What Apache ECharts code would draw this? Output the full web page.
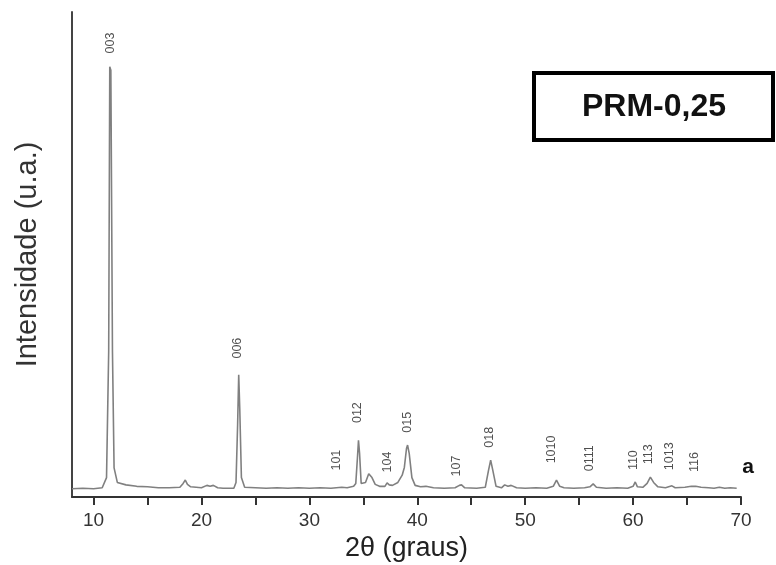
<!DOCTYPE html>
<html><head><meta charset="utf-8">
<script src="https://cdn.jsdelivr.net/npm/echarts@6/dist/echarts.min.js"></script>
<style>html,body{margin:0;padding:0;background:#fff}#c{width:776px;height:565px}</style>
</head><body><div id="c"></div>
<script>
// Diffraction pattern (2θ in degrees, intensity in arbitrary units)
const twoTheta = [8.0,9.0,10.0,10.8,11.2,11.4,11.5,11.6,11.75,11.9,12.2,13,14,15,16,17,18,18.3,18.5,18.7,19,20,20.5,20.8,21.1,21.5,22,23,23.2,23.35,23.45,23.55,23.7,24,25,26,27,28,29,30,31,32,33,33.5,34.1,34.3,34.45,34.55,34.65,34.8,35.2,35.5,35.6,35.8,36.1,36.5,37.0,37.2,37.4,37.7,38.2,38.6,38.8,39.0,39.1,39.25,39.5,39.8,40.3,40.8,41.5,42.5,43.5,43.9,44.1,44.4,45.5,46.3,46.6,46.8,47.0,47.3,47.8,48.1,48.4,48.7,49.2,50,51,52,52.6,52.9,53.2,53.6,54.5,55.5,56.0,56.3,56.6,57.5,58.5,59.5,60.0,60.2,60.4,60.9,61.3,61.6,61.9,62.3,63,63.6,63.9,64.8,65.4,65.8,66.3,67,67.5,68,68.5,69,69.6];
const intensity = [17,18,17,19,40,300,887,880,300,60,30,25,22,21,19,19,20,28,35,26,21,19,24,22,24,19,18,18,30,150,252,180,40,20,19,18,19,18,19,18,19,18,20,19,22,28,80,117,90,28,30,48,51,40,26,22,22,29,25,24,30,45,61,100,107,90,40,24,21,22,19,18,19,24,25,19,18,20,55,76,55,22,19,25,22,24,19,18,19,18,22,35,22,19,18,19,21,27,20,18,19,18,22,31,21,20,28,41,30,21,19,23,19,20,22,22,20,19,18,20,18,19,18];

// Miller index labels
const peakLabels = ['003','006','101','012','104','015','107','018','1010','0111','110','113','1013','116'];
const peakLabelX = [11.6,23.3,32.5,34.5,37.2,39.1,43.6,46.7,52.4,56.0,60.0,61.4,63.4,65.7];
const peakLabelY = [936,307,76,174,72,154,64,123,98,80,76,88,84,72];

const tickValues = [10,15,20,25,30,35,40,45,50,55,60,65,70];
const labelValues = [10,20,30,40,50,60,70];

const chart = echarts.init(document.getElementById('c'), null, {renderer:'canvas'});
chart.setOption({
  animation:false,
  backgroundColor:'#fff',
  grid:{left:72,right:35,top:12,bottom:68,containLabel:false,outerBoundsMode:'none'},
  xAxis:{
    type:'value', min:8, max:70,
    name:'2θ (graus)', nameLocation:'middle', nameGap:38,
    nameTextStyle:{fontFamily:'Liberation Sans, Arial', fontSize:27, color:'#222'},
    axisLine:{show:true, lineStyle:{color:'#333', width:2}},
    axisTick:{show:true, inside:false, length:8, lineStyle:{color:'#333', width:2}, customValues:tickValues},
    axisLabel:{show:true, margin:14, fontFamily:'Liberation Sans, Arial', fontSize:19, color:'#333', customValues:labelValues},
    splitLine:{show:false}
  },
  yAxis:{
    type:'value', min:0, max:1000,
    name:'Intensidade (u.a.)', nameLocation:'middle', nameGap:30,
    nameTextStyle:{fontFamily:'Liberation Sans, Arial', fontSize:29, color:'#333'},
    axisLine:{show:true, lineStyle:{color:'#444', width:2}},
    axisTick:{show:false}, axisLabel:{show:false}, splitLine:{show:false}
  },
  series:[
    {type:'line', data:twoTheta.map((x,i)=>[x,intensity[i]]), showSymbol:false, symbol:'none',
     lineStyle:{color:'#808080', width:1.6}, silent:true},
    {type:'scatter', symbolSize:0, silent:true,
     data:peakLabelX.map((x,i)=>({value:[x,peakLabelY[i]], name:peakLabels[i]})),
     label:{show:true, position:'inside', rotate:90, formatter:p=>p.name,
       fontFamily:'Liberation Sans, Arial', fontSize:12.5, color:'#222'}}
  ],
  graphic:[
    {type:'rect', shape:{x:534, y:73, width:239, height:67}, style:{fill:'#fff', stroke:'#000', lineWidth:4}},
    {type:'text', x:654, y:107, style:{text:'PRM-0,25', font:'bold 32px "Liberation Sans", Arial', fill:'#111', textAlign:'center', textVerticalAlign:'middle'}},
    {type:'text', x:748, y:467, style:{text:'a', font:'bold 21px "Liberation Sans", Arial', fill:'#111', textAlign:'center', textVerticalAlign:'middle'}}
  ]
});
</script></body></html>
